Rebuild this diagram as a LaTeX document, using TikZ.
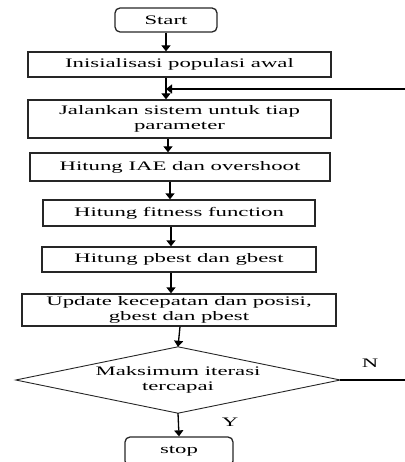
\documentclass[tikz,border=0pt]{standalone}
\usepackage{fontspec}
\setmainfont{Liberation Serif}[FakeStretch=1.75]
\usetikzlibrary{arrows.meta}
\begin{document}
\begin{tikzpicture}[x=1pt,y=-1pt,
  box/.style={draw=black!85,line width=1.3pt,rectangle,inner sep=0pt,align=center,font=\fontsize{13}{15.5}\selectfont},
  term/.style={box,rounded corners=5pt},
  dec/.style={rectangle,inner sep=0pt,align=center,font=\fontsize{13}{15.5}\selectfont},
  arr/.style={line width=1.3pt,-{Triangle[length=6pt,width=9pt]}},
  lab/.style={font=\fontsize{13}{15.5}\selectfont}]
\useasboundingbox (0,0) rectangle (404,462);
\node[term,minimum width=102pt,minimum height=24pt] (start) at (166,20) {Start};
\node[box,minimum width=303pt,minimum height=25pt] (init) at (179.5,64.5) {Inisialisasi populasi awal};
\node[box,minimum width=303pt,minimum height=38pt] (jal) at (179.5,119) {Jalankan sistem untuk tiap\\parameter};
\node[box,minimum width=300pt,minimum height=28pt] (iae) at (180,167) {Hitung IAE dan overshoot};
\node[box,minimum width=272pt,minimum height=26pt] (fit) at (179,213) {Hitung fitness function};
\node[box,minimum width=274pt,minimum height=25pt] (pb) at (179,259.5) {Hitung pbest dan gbest};
\node[box,minimum width=314pt,minimum height=32pt] (upd) at (179,310) {Update kecepatan dan posisi,\\gbest dan pbest};
\node[dec,minimum width=324pt,minimum height=66pt] (dia) at (178,380) {Maksimum iterasi\\tercapai};
\draw[draw=black!85,line width=0.9pt] (dia.north) -- (dia.east) -- (dia.south) -- (dia.west) -- cycle;
\node[term,minimum width=108pt,minimum height=29pt] (stop) at (179,451.5) {stop};
\node[lab] (nl) at (370,363) {N};
\node[lab] (yl) at (230,422) {Y};
\coordinate (fb) at (166,89);
\coordinate (loop) at (406,380);
\draw[arr] (start.south) -- (start.south |- init.north);
\draw[arr] (init.south -| start) -- (jal.north -| start);
\draw[arr] ([xshift=-11.5pt]jal.south) -- ([xshift=-11.5pt]jal.south |- iae.north);
\draw[arr] ([xshift=-10pt]iae.south) -- ([xshift=-10pt]iae.south |- fit.north);
\draw[arr] ([xshift=-8pt]fit.south) -- ([xshift=-8pt]fit.south |- pb.north);
\draw[arr] ([xshift=-8pt]pb.south) -- ([xshift=-8pt]pb.south |- upd.north);
\draw[arr] ([xshift=1pt]upd.south) -- (dia.north);
\draw[arr] (dia.south) -- (stop.north);
\draw[arr] (dia.east) -- (loop) |- (fb);
\end{tikzpicture}
\end{document}
